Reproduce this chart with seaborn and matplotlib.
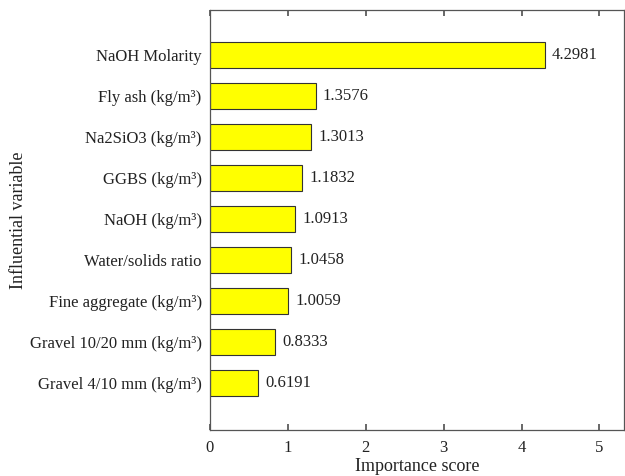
import matplotlib
matplotlib.use("Agg")
import matplotlib.pyplot as plt
import seaborn as sns
import pandas as pd

variables = [
    "NaOH Molarity",
    "Fly ash (kg/m³)",
    "Na2SiO3 (kg/m³)",
    "GGBS (kg/m³)",
    "NaOH (kg/m³)",
    "Water/solids ratio",
    "Fine aggregate (kg/m³)",
    "Gravel 10/20 mm (kg/m³)",
    "Gravel 4/10 mm (kg/m³)",
]
scores = [4.2981, 1.3576, 1.3013, 1.1832, 1.0913, 1.0458, 1.0059, 0.8333, 0.6191]
xticks = [0, 1, 2, 3, 4, 5]

sns.set_theme(style="white")
plt.rcParams["font.family"] = ["Liberation Serif", "DejaVu Serif"]
plt.rcParams["font.size"] = 11

df = pd.DataFrame({"variable": variables, "score": scores})

fig = plt.figure(figsize=(6.25, 4.76), dpi=100)
ax = fig.add_axes([0.336, 0.097, 0.663, 0.882])

sns.barplot(data=df, x="score", y="variable", orient="h", color="#ffff00",
            edgecolor="#333333", linewidth=0.8, width=0.63, saturation=1, ax=ax)

for p, v in zip(ax.patches, scores):
    ax.text(p.get_width() + 0.09, p.get_y() + p.get_height() / 2, f"{v:.4f}",
            va="center", ha="left", fontsize=12, color="#222222")

ax.set_xlim(0, 5.32)
ax.set_ylim(8 + 1.15, -1.1)
ax.set_xticks(xticks)
ax.set_xticklabels([str(t) for t in xticks], fontsize=12, color="#222222")
ax.tick_params(axis="y", labelsize=12, colors="#222222", length=0, pad=6)
ax.tick_params(axis="x", direction="in", length=4, top=True, bottom=True,
               color="#555555", pad=7)
for s in ax.spines.values():
    s.set_color("#555555")
    s.set_linewidth(0.9)

ax.set_xlabel("Importance score", fontsize=13, color="#222222", labelpad=2)
ax.set_ylabel("Influential variable", fontsize=13, color="#222222", labelpad=2)

fig.savefig("out.png", dpi=100)
